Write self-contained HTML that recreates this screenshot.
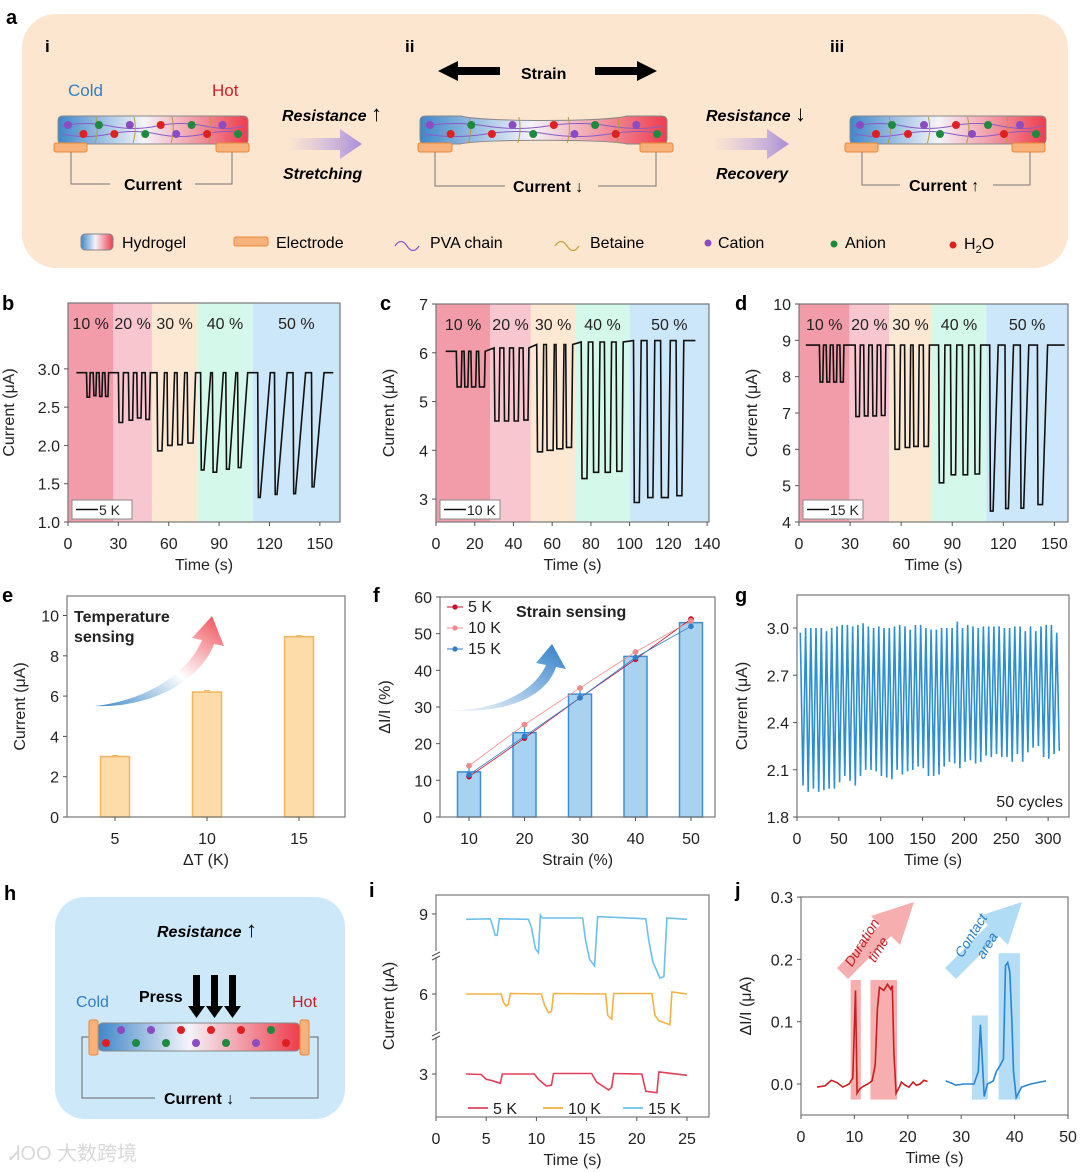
<!DOCTYPE html>
<html><head><meta charset="utf-8"><style>
html,body{margin:0;padding:0;background:#fff}
svg{display:block;font-family:"Liberation Sans","Noto Sans CJK SC",sans-serif}
</style></head><body>
<svg id="fig" width="1080" height="1172" viewBox="0 0 1080 1172" xmlns="http://www.w3.org/2000/svg">
<defs>
<linearGradient id="gel" x1="0" x2="1" y1="0" y2="0"><stop offset="0" stop-color="#3f87c8"/><stop offset="0.45" stop-color="#f4f4fa"/><stop offset="1" stop-color="#ee3d4d"/></linearGradient>
<linearGradient id="parr" x1="0" x2="1"><stop offset="0" stop-color="#c9b6e6" stop-opacity="0"/><stop offset="1" stop-color="#a88dd8"/></linearGradient>
<linearGradient id="earr" x1="0" y1="1" x2="1" y2="0"><stop offset="0" stop-color="#3f8ac8"/><stop offset="0.5" stop-color="#ffffff"/><stop offset="1" stop-color="#ef4b55"/></linearGradient>
<linearGradient id="farr" x1="0" y1="1" x2="1" y2="0"><stop offset="0" stop-color="#ffffff"/><stop offset="1" stop-color="#2f7fc8"/></linearGradient>
</defs>

<!-- Panel a -->
<g>
<text x="6" y="24" font-size="20" font-weight="bold">a</text>
<rect x="22" y="14" width="1046" height="254" rx="34" fill="#fde6d0"/>
<text x="45" y="52" font-size="17" font-weight="bold">i</text>
<text x="405" y="52" font-size="17" font-weight="bold">ii</text>
<text x="830" y="52" font-size="17" font-weight="bold">iii</text>
<text x="68" y="96" font-size="17" fill="#2f7fc8">Cold</text>
<text x="212" y="96" font-size="17" fill="#d0202a">Hot</text>
<g id="gels"></g>
<text x="282" y="121" font-size="16" font-weight="bold" font-style="italic">Resistance <tspan font-size="22" font-style="normal" font-weight="normal">↑</tspan></text>
<polygon points="285,138 340,138 340,129 362,144 340,159 340,150 285,150" fill="url(#parr)"/>
<text x="283" y="179" font-size="16" font-weight="bold" font-style="italic">Stretching</text>
<polygon points="438,71 458,61 458,67 500,67 500,75 458,75 458,81" fill="#000"/>
<text x="521" y="79" font-size="16" font-weight="bold">Strain</text>
<polygon points="595,67 637,67 637,61 657,71 637,81 637,75 595,75" fill="#000"/>
<text x="706" y="121" font-size="16" font-weight="bold" font-style="italic">Resistance <tspan font-size="22" font-style="normal" font-weight="normal">↓</tspan></text>
<polygon points="712,138 767,138 767,129 789,144 767,159 767,150 712,150" fill="url(#parr)"/>
<text x="716" y="179" font-size="16" font-weight="bold" font-style="italic">Recovery</text>
<!-- legend -->
<rect x="81" y="234" width="32" height="16" rx="4" fill="url(#gel)" stroke="#888"/>
<text x="122" y="248" font-size="16">Hydrogel</text>
<rect x="234" y="237" width="34" height="9" rx="2" fill="#f6b27a" stroke="#e8893a"/>
<text x="276" y="248" font-size="16">Electrode</text>
<path d="M395,246 q6,-9 12,0 t12,0" fill="none" stroke="#8a5cc8" stroke-width="1.3"/>
<text x="430" y="248" font-size="16">PVA chain</text>
<path d="M555,246 q6,-9 12,0 t12,0" fill="none" stroke="#c8a23a" stroke-width="1.3"/>
<text x="590" y="248" font-size="16">Betaine</text>
<circle cx="708" cy="243" r="3.5" fill="#8a4cc0"/>
<text x="718" y="248" font-size="16">Cation</text>
<circle cx="834" cy="244" r="3.5" fill="#1e8a3e"/>
<text x="845" y="248" font-size="16">Anion</text>
<circle cx="953" cy="245" r="3.5" fill="#e02020"/>
<text x="964" y="249" font-size="16">H<tspan font-size="11" dy="4">2</tspan><tspan dy="-4">O</tspan></text>
</g>

<!-- Panel h -->
<g>
<text x="4" y="900" font-size="20" font-weight="bold">h</text>
<rect x="55" y="897" width="290" height="222" rx="30" fill="#cde8f9"/>
<text x="157" y="937" font-size="16" font-weight="bold" font-style="italic">Resistance <tspan font-size="22" font-style="normal" font-weight="normal">↑</tspan></text>
<text x="139" y="1002" font-size="16" font-weight="bold">Press</text>
<g fill="#000">
<polygon points="193,975 200,975 200,1006 205,1006 196.5,1018 188,1006 193,1006"/>
<polygon points="211,975 218,975 218,1006 223,1006 214.5,1018 206,1006 211,1006"/>
<polygon points="229,975 236,975 236,1006 241,1006 232.5,1018 224,1006 229,1006"/>
</g>
<text x="76" y="1007" font-size="16" fill="#2f7fc8">Cold</text>
<text x="292" y="1007" font-size="16" fill="#c0202a">Hot</text>
<path d="M89,1037 H82 V1098 H155 M250,1098 H318 V1037 H310" fill="none" stroke="#666" stroke-width="1"/>
<rect x="98" y="1023" width="202" height="28" rx="5" fill="url(#gel)" stroke="#888"/>
<rect x="89" y="1020" width="9" height="35" rx="2" fill="#f6b27a" stroke="#e8893a"/>
<rect x="300" y="1020" width="9" height="35" rx="2" fill="#f6b27a" stroke="#e8893a"/>
<g id="hdots"></g>
<text x="164" y="1104" font-size="16" font-weight="bold">Current ↓</text>
<text x="10" y="1160" font-size="20" fill="#d8d8d8">ᏗOO 大数跨境</text>
</g>

<g id="charts"></g>
</svg>
<script>
// ===== Panel b data =====
const bBandEdges = [0, 27, 50, 77, 110, 162];
const bBandLabels = ["10 %", "20 %", "30 %", "40 %", "50 %"];
const bBaseline = [2.95, 2.95, 2.95, 2.95, 2.95];
const bDipStart = [11,15,18.5,22, 30,36,41,46, 53,59,65,71, 79,86,94,101, 113,123,134,145];
const bDipEnd   = [12.8,16.6,20.2,23.8, 32.5,38.5,43.5,48.5, 56,62,68,74.5, 81,88.5,96,103, 114.5,124.5,135.5,146.5];
const bDipLevel = [2.63,2.65,2.64,2.64, 2.3,2.33,2.36,2.34, 1.93,2.0,2.01,2.03, 1.68,1.65,1.69,1.71, 1.32,1.36,1.37,1.46];
const bDipRise  = [0.4,0.4,0.4,0.4, 0.5,0.5,0.5,0.5, 1.5,1.5,1.5,1.5, 4,4,4,4, 6,6,6,6];
const bYTicks = [1.0, 1.5, 2.0, 2.5, 3.0];
const bXTicks = [0, 30, 60, 90, 120, 150];
// ===== Panel c data =====
const cBandEdges = [0, 28, 49, 72, 100, 141];
const cBaseline = [6.03, 6.1, 6.17, 6.22, 6.25];
const cDipStart = [10.5,14.5,18,22, 30,35,40,45, 52,57,62,67, 75,81,87,93, 102,109,116,124];
const cDipEnd   = [13,16.5,20.5,25, 32.5,37.5,42.5,47.5, 55,60.5,65.5,70, 78,84,90,96, 105,112,120,127];
const cDipLevel = [5.3,5.3,5.3,5.3, 4.6,4.6,4.6,4.62, 3.97,4.0,4.03,4.06, 3.42,3.55,3.55,3.57, 2.93,3.03,3.03,3.07];
const cDipRise  = [0.4,0.4,0.4,0.4, 0.5,0.5,0.5,0.5, 0.6,0.6,0.6,0.6, 0.7,0.7,0.7,0.7, 1,1,1,1];
const cYTicks = [3, 4, 5, 6, 7];
const cXTicks = [0, 20, 40, 60, 80, 100, 120, 140];
// ===== Panel d data =====
const dBandEdges = [0, 29.6, 53, 78, 110, 158];
const dBaseline = [8.87, 8.87, 8.87, 8.87, 8.87];
const dDipStart = [12,16,20,24, 33,38,43,48, 56,62,67,73, 82,89,96,103, 112,121,130,140];
const dDipEnd   = [14,18,22,26, 35.5,40.5,45.5,50.5, 59,65,70,76, 85,92,99,106, 114,123,132,143];
const dDipLevel = [7.85,7.85,7.85,7.85, 6.9,6.92,6.92,6.93, 6.0,6.05,6.08,6.08, 5.08,5.3,5.3,5.32, 4.3,4.37,4.38,4.48];
const dDipRise  = [0.4,0.4,0.4,0.4, 0.5,0.5,0.5,0.5, 0.6,0.6,0.6,0.6, 0.7,0.7,0.7,0.7, 3,3,3,3];
const dYTicks = [4, 5, 6, 7, 8, 9, 10];
const dXTicks = [0, 30, 60, 90, 120, 150];
// ===== Panel e data =====
const eCategories = [5, 10, 15];
const eValues = [3.0, 6.2, 8.95];
const eErrors = [0.05, 0.08, 0.05];
const eYTicks = [0, 2, 4, 6, 8, 10];
// ===== Panel f data =====
const fCategories = [10, 20, 30, 40, 50];
const fBarValues = [12.3, 23.0, 33.5, 43.8, 53.0];
const fErrors = [1.6, 2.2, 1.6, 1.2, 1.0];
const f5K = [11.0, 21.5, 32.5, 43.0, 54.0];
const f10K = [14.0, 25.2, 35.2, 45.0, 53.5];
const f15K = [11.5, 22.0, 32.5, 43.5, 52.0];
const fYTicks = [0, 10, 20, 30, 40, 50, 60];
// ===== Panel g data =====
const gPeaks = [2.97,3.0,3.0,3.0,3.0,2.98,3.0,3.01,3.02,3.02,3.01,3.02,3.03,3.01,3.0,3.01,3.0,3.0,3.01,3.02,3.01,2.99,3.02,3.02,3.0,2.99,2.99,3.0,3.0,3.0,3.04,3.0,3.02,3.01,3.0,3.01,3.01,3.01,3.01,3.0,3.0,3.01,3.01,2.98,3.01,2.98,3.01,3.02,3.02,2.97];
const gTroughs = [2.0,1.96,1.98,1.96,1.97,1.98,1.98,2.02,2.06,2.03,2.0,2.06,2.1,2.1,2.09,2.06,2.05,2.04,2.1,2.07,2.09,2.1,2.12,2.11,2.06,2.06,2.07,2.12,2.15,2.14,2.11,2.15,2.16,2.14,2.15,2.19,2.18,2.2,2.18,2.18,2.15,2.2,2.15,2.21,2.24,2.25,2.18,2.17,2.2,2.22];
const gFirstPeakTime = 4;
const gPeriod = 6.25;
const gYTicks = [1.8, 2.1, 2.4, 2.7, 3.0];
const gXTicks = [0, 50, 100, 150, 200, 250, 300];
// ===== Panel i data =====
const i15Kt = [3,5.4,5.6,5.9,6.1,6.3,9.2,9.5,9.9,10.2,10.4,10.6,14.6,14.9,15.3,15.8,16.1,20.9,21.2,21.6,22.3,22.7,23.0,25];
const i15Kv = [8.8,8.82,8.6,8.2,8.2,8.82,8.8,8.5,7.7,7.55,8.95,8.85,8.85,8.0,7.3,7.05,8.9,8.82,8.0,7.2,6.6,6.65,8.85,8.8];
const i10Kt = [3,6.5,6.7,7.0,7.2,7.4,10.5,10.8,11.2,11.5,11.7,16.9,17.1,17.5,17.7,21.5,21.8,22.2,23.3,23.5,25];
const i10Kv = [6.0,6.0,5.7,5.55,5.6,6.02,6.0,5.6,5.3,5.35,6.02,6.0,5.2,5.05,6.02,6.02,5.2,5.0,4.85,6.08,6.0];
const i5Kt  = [3,4.5,5.0,5.6,6.4,6.6,9.8,10.2,11.0,11.5,11.7,15.5,16.0,17.2,17.5,17.7,20.5,20.9,22.0,22.2,25];
const i5Kv  = [3.0,2.98,2.8,2.75,2.65,3.0,3.0,2.8,2.55,2.58,3.02,3.02,2.7,2.4,2.5,3.02,3.0,2.35,2.3,3.08,2.95];
const iYTicks = [3, 6, 9];
const iXTicks = [0, 5, 10, 15, 20, 25];
// ===== Panel j data =====
const jRedT = [3,4.5,5.7,6.8,7.8,9.0,9.7,10.2,10.5,11.0,11.6,12.5,13.3,13.9,14.3,14.7,15.5,16.2,16.8,17.1,17.4,17.8,18.4,18.8,19.5,20.2,21.0,21.6,22.3,23.0,23.7];
const jRedV = [-0.005,-0.003,0.006,0.002,-0.005,0.0,0.01,0.15,-0.015,-0.008,-0.004,0.0,0.005,0.03,0.12,0.155,0.15,0.16,0.152,0.158,0.05,-0.015,-0.005,0.003,-0.002,-0.005,0.003,-0.002,0.0,0.006,0.004];
const jBlueT = [27.1,28.0,29.0,30.5,32.4,33.2,33.6,34.0,34.3,34.9,36.0,36.6,37.3,37.9,38.3,38.7,39.1,39.5,39.8,40.3,41.3,43.0,45.9];
const jBlueV = [0.005,0.002,-0.002,0.0,0.0,0.02,0.095,0.03,-0.02,0.0,0.005,0.02,0.03,0.04,0.19,0.195,0.18,0.1,0.02,-0.022,-0.005,0.0,0.005];
const jYTicks = [0.0, 0.1, 0.2, 0.3];
const jXTicks = [0, 10, 20, 30, 40, 50];

const NS = "http://www.w3.org/2000/svg";
const root = document.getElementById("charts");
function mk(tag, attrs, name, parent) {
  const el = document.createElementNS(NS, tag);
  for (const k in attrs) el.setAttribute(k, attrs[k]);
  
  
  (parent || root).appendChild(el);
  return el;
}
function txt(x, y, s, name, extra) {
  const el = mk("text", Object.assign({x: x, y: y, "font-size": 16, fill: "#222"}, extra || {}), name);
  el.textContent = s;
  return el;
}
function fmt(v, d) { return d ? v.toFixed(d) : String(v); }

function axes(o) {
  mk("rect", {x: o.x0, y: o.y0, width: o.x1 - o.x0, height: o.y1 - o.y0, fill: "none", stroke: "#777", "stroke-width": 1.2}, o.name + "-frame");
  o.yticks.forEach(v => {
    const y = o.sy(v);
    mk("line", {x1: o.x0 - 4, x2: o.x0, y1: y, y2: y, stroke: "#555"}, o.name + "-y-tick");
    txt(o.x0 - 8, y + 6, fmt(v, o.ydec), o.name + "-y-tick-label", {"text-anchor": "end"});
  });
  o.xticks.forEach(v => {
    const x = o.sx(v);
    mk("line", {x1: x, x2: x, y1: o.y1, y2: o.y1 + 4, stroke: "#555"}, o.name + "-x-tick");
    txt(x, o.y1 + 27, fmt(v), o.name + "-x-tick-label", {"text-anchor": "middle"});
  });
  txt((o.x0 + o.x1) / 2, o.y1 + 48, o.xtitle, o.name + "-x-axis-title", {"text-anchor": "middle"});
  const ty = (o.y0 + o.y1) / 2, tx = o.x0 - (o.ytoff || 50);
  txt(tx, ty, o.ytitle, o.name + "-y-axis-title", {"text-anchor": "middle", transform: "rotate(-90 " + tx + " " + ty + ")"});
}
function pathFrom(pts) { return pts.map((p, i) => (i ? "L" : "M") + p[0].toFixed(1) + "," + p[1].toFixed(1)).join(""); }

const bandColors = ["#f29ba9", "#f8c6cf", "#fde8d4", "#d4f8e9", "#cce6fa"];
function strainPanel(p) {
  const sx = t => p.x0 + (t - p.tmin) * (p.x1 - p.x0) / (p.tmax - p.tmin);
  const sy = v => p.y1 - (v - p.vmin) * (p.y1 - p.y0) / (p.vmax - p.vmin);
  for (let k = 0; k < 5; k++) {
    const xa = sx(p.edges[k]), xb = sx(p.edges[k + 1]);
    mk("rect", {x: xa, y: p.y0, width: xb - xa, height: p.y1 - p.y0, fill: bandColors[k]}, p.name + "-band-" + (k + 1) * 10);
    txt((xa + xb) / 2, p.y0 + 26, bBandLabels[k], p.name + "-band-label", {"text-anchor": "middle"});
  }
  const bandOf = t => { for (let k = 0; k < 5; k++) if (t < p.edges[k + 1]) return k; return 4; };
  const pts = [];
  pts.push([sx(p.tstart), sy(p.base[0])]);
  for (let i = 0; i < p.start.length; i++) {
    const b = p.base[bandOf(p.start[i])];
    pts.push([sx(p.start[i]), sy(b)]);
    pts.push([sx(p.start[i] + 0.4), sy(p.level[i])]);
    pts.push([sx(p.end[i]), sy(p.level[i])]);
    pts.push([sx(p.end[i] + p.rise[i]), sy(b)]);
  }
  pts.push([sx(p.tend), sy(p.base[4])]);
  mk("path", {d: pathFrom(pts), fill: "none", stroke: "#111", "stroke-width": 1.6}, p.name + "-current-trace");
  axes({name: p.name, x0: p.x0, x1: p.x1, y0: p.y0, y1: p.y1, sx: sx, sy: sy, xticks: p.xticks, yticks: p.yticks, ydec: p.ydec, xtitle: "Time (s)", ytitle: "Current (μA)", ytoff: p.ytoff});
  mk("rect", {x: p.x0 + 4, y: p.y1 - 22, width: 60, height: 19, fill: "#fff", stroke: "#888"}, p.name + "-legend-box");
  mk("line", {x1: p.x0 + 8, x2: p.x0 + 30, y1: p.y1 - 12.5, y2: p.y1 - 12.5, stroke: "#111", "stroke-width": 1.6}, p.name + "-legend-line");
  txt(p.x0 + 31, p.y1 - 7, p.legend, p.name + "-legend-label", {"font-size": 14});
}

[["b",0,310],["c",378,310],["d",733,310],["e",0,602],["f",371,602],["g",733,602],["i",367,897],["j",733,897]].forEach(l => {
  txt(l[1] + 2, l[2], l[0], "panel-label-" + l[0], {"font-size": 20, "font-weight": "bold", fill: "#000"});
});

strainPanel({name: "panel-b", x0: 68, x1: 340, y0: 303, y1: 522, tmin: 0, tmax: 162, vmin: 1.0, vmax: 3.86, edges: bBandEdges, base: bBaseline, start: bDipStart, end: bDipEnd, level: bDipLevel, rise: bDipRise, tstart: 5, tend: 158, xticks: bXTicks, yticks: bYTicks, ydec: 1, legend: "5 K", ytoff: 54});
strainPanel({name: "panel-c", x0: 436, x1: 709, y0: 304, y1: 522, tmin: 0, tmax: 141, vmin: 2.53, vmax: 7.0, edges: cBandEdges, base: cBaseline, start: cDipStart, end: cDipEnd, level: cDipLevel, rise: cDipRise, tstart: 5, tend: 134, xticks: cXTicks, yticks: cYTicks, ydec: 0, legend: "10 K", ytoff: 42});
strainPanel({name: "panel-d", x0: 799, x1: 1068, y0: 304, y1: 522, tmin: 0, tmax: 158, vmin: 4, vmax: 10, edges: dBandEdges, base: dBaseline, start: dDipStart, end: dDipEnd, level: dDipLevel, rise: dDipRise, tstart: 4, tend: 156, xticks: dXTicks, yticks: dYTicks, ydec: 0, legend: "15 K", ytoff: 42});

// ===== Panel e =====
(function () {
  const x0 = 67, x1 = 345, y0 = 596, y1 = 817;
  const sx = v => 115 + (v - 5) * 18.4;
  const sy = v => y1 - v * 20.15;
  mk("path", {d: "M95,706 C150,700 190,670 202,640 L192,638 L212,616 L224,646 L214,644 C200,682 150,708 95,706 Z", fill: "url(#earr)"}, "temperature-arrow");
  txt(74, 622, "Temperature", "temperature-sensing-label", {"font-weight": "bold"});
  txt(74, 642, "sensing", "temperature-sensing-label-2", {"font-weight": "bold"});
  eCategories.forEach((c, i) => {
    const x = sx(c), y = sy(eValues[i]);
    mk("rect", {x: x - 14.5, y: y, width: 29, height: y1 - y, fill: "#fddcaa", stroke: "#f3b55c", "stroke-width": 1.5}, "bar-" + c + "k");
    mk("line", {x1: x - 3, x2: x + 3, y1: sy(eValues[i] + eErrors[i]), y2: sy(eValues[i] + eErrors[i]), stroke: "#f3b55c"}, "error-bar-" + c + "k");
  });
  axes({name: "panel-e", x0: x0, x1: x1, y0: y0, y1: y1, sx: sx, sy: sy, xticks: eCategories, yticks: eYTicks, ydec: 0, xtitle: "ΔT (K)", ytitle: "Current (μA)", ytoff: 42});
})();

// ===== Panel f =====
(function () {
  const x0 = 440, x1 = 715, y0 = 597, y1 = 817;
  const sx = v => 469 + (v - 10) * 5.55;
  const sy = v => y1 - v * 3.667;
  mk("path", {d: "M442,710 C500,712 535,690 546,665 L536,663 L552,644 L566,669 L556,667 C545,700 500,715 442,710 Z", fill: "url(#farr)"}, "strain-sensing-arrow");
  fCategories.forEach((c, i) => {
    const x = sx(c), y = sy(fBarValues[i]);
    mk("rect", {x: x - 11.5, y: y, width: 23, height: y1 - y, fill: "#a9d2f0", stroke: "#3b8fd0", "stroke-width": 1.5}, "bar-strain-" + c);
    mk("line", {x1: x, x2: x, y1: sy(fBarValues[i] - fErrors[i]), y2: sy(fBarValues[i] + fErrors[i]), stroke: "#3b8fd0", "stroke-width": 1.2}, "error-bar-strain-" + c);
    mk("line", {x1: x - 3, x2: x + 3, y1: sy(fBarValues[i] + fErrors[i]), y2: sy(fBarValues[i] + fErrors[i]), stroke: "#3b8fd0", "stroke-width": 1.2}, "error-cap-strain-" + c);
  });
  const series = [[f5K, "#c8102e", "5K"], [f10K, "#f08a8a", "10K"], [f15K, "#2f7fc8", "15K"]];
  series.forEach(s => {
    mk("path", {d: pathFrom(fCategories.map((c, i) => [sx(c), sy(s[0][i])])), fill: "none", stroke: s[1], "stroke-width": 0.8}, "line-" + s[2]);
    fCategories.forEach((c, i) => mk("circle", {cx: sx(c), cy: sy(s[0][i]), r: 2.8, fill: s[1]}, "point-" + s[2] + "-" + c));
  });
  const leg = [["5 K", "#c8102e", 612], ["10 K", "#f08a8a", 633], ["15 K", "#2f7fc8", 654]];
  leg.forEach(l => {
    mk("line", {x1: 447, x2: 463, y1: l[2] - 5, y2: l[2] - 5, stroke: l[1]}, "legend-line-" + l[0]);
    mk("circle", {cx: 455, cy: l[2] - 5, r: 2.6, fill: l[1]}, "legend-marker-" + l[0]);
    txt(468, l[2], l[0], "legend-label-" + l[0]);
  });
  txt(516, 617, "Strain sensing", "strain-sensing-label", {"font-weight": "bold"});
  axes({name: "panel-f", x0: x0, x1: x1, y0: y0, y1: y1, sx: sx, sy: sy, xticks: fCategories, yticks: fYTicks, ydec: 0, xtitle: "Strain (%)", ytitle: "ΔI/I (%)", ytoff: 50});
})();

// ===== Panel g =====
(function () {
  const x0 = 797, x1 = 1069, y0 = 595, y1 = 817;
  const sx = t => x0 + t * 0.837;
  const sy = v => y1 - (v - 1.8) * 157.5;
  const pts = [];
  gPeaks.forEach((p, i) => {
    const t = gFirstPeakTime + i * gPeriod;
    pts.push([sx(t), sy(p)]);
    if (i < gTroughs.length) pts.push([sx(t + gPeriod * 0.5), sy(gTroughs[i])]);
  });
  mk("path", {d: pathFrom(pts), fill: "none", stroke: "#2b8fd2", "stroke-width": 1.6}, "cycle-current-trace");
  txt(1063, 807, "50 cycles", "cycles-annotation", {"text-anchor": "end"});
  axes({name: "panel-g", x0: x0, x1: x1, y0: y0, y1: y1, sx: sx, sy: sy, xticks: gXTicks, yticks: gYTicks, ydec: 1, xtitle: "Time (s)", ytitle: "Current (μA)", ytoff: 50});
})();

// ===== Panel i =====
(function () {
  const x0 = 436, x1 = 709, y0 = 895, y1 = 1117;
  const sx = t => x0 + t * 10.04;
  const sy = v => 1074 - (v - 3) * 26.67;
  const ss = [[i15Kt, i15Kv, "#6cc0ea", "15K"], [i10Kt, i10Kv, "#f4b143", "10K"], [i5Kt, i5Kv, "#e0405a", "5K"]];
  ss.forEach(s => mk("path", {d: pathFrom(s[0].map((t, k) => [sx(t), sy(s[1][k])])), fill: "none", stroke: s[2], "stroke-width": 1.6}, "trace-" + s[3]));
  [["5 K", "#e0405a", 468], ["10 K", "#f4b143", 543], ["15 K", "#6cc0ea", 623]].forEach(l => {
    mk("line", {x1: l[2], x2: l[2] + 20, y1: 1108, y2: 1108, stroke: l[1], "stroke-width": 1.8}, "i-legend-line-" + l[0]);
    txt(l[2] + 25, 1114, l[0], "i-legend-label-" + l[0]);
  });
  axes({name: "panel-i", x0: x0, x1: x1, y0: y0, y1: y1, sx: sx, sy: sy, xticks: iXTicks, yticks: iYTicks, ydec: 0, xtitle: "Time (s)", ytitle: "Current (μA)", ytoff: 42});
  [0, 1].forEach(k => {
    mk("rect", {x: x0 - 4, y: (k ? 951 : 1031), width: 8, height: 6, fill: "#fff"}, "axis-break-gap");
    mk("path", {d: "M" + (x0 - 4) + "," + ((k ? 956 : 1036)) + " l8,-4 M" + (x0 - 4) + "," + ((k ? 960 : 1040)) + " l8,-4", stroke: "#555", fill: "none"}, "axis-break-mark");
  });
})();

// ===== Panel j =====
(function () {
  const x0 = 801, x1 = 1068, y0 = 897, y1 = 1115;
  const sx = t => x0 + t * 5.34;
  const sy = v => 1084 - v * 623;
  const hl = [[9.3, 11.2, 0.167, "#f4a0a0", "red-highlight-1"], [13.0, 18.0, 0.167, "#f4a0a0", "red-highlight-2"], [32.0, 35.0, 0.11, "#a8d8f5", "blue-highlight-1"], [37.0, 41.0, 0.21, "#a8d8f5", "blue-highlight-2"]];
  hl.forEach(h => mk("rect", {x: sx(h[0]), y: sy(h[2]), width: sx(h[1]) - sx(h[0]), height: sy(-0.025) - sy(h[2]), fill: h[3], opacity: 0.85}, h[4]));
  mk("polygon", {points: "837,968 880,925 871,916 914,902 900,945 891,936 848,979", fill: "#f4a0a0", opacity: 0.85}, "duration-arrow");
  mk("polygon", {points: "945,968 988,925 979,916 1022,902 1008,945 999,936 956,979", fill: "#a8d8f5", opacity: 0.9}, "contact-arrow");
  txt(866, 945, "Duration", "duration-label", {"font-size": 14, "font-style": "italic", fill: "#c0202a", "text-anchor": "middle", transform: "rotate(-58 866 945)"});
  txt(882, 952, "time", "time-label", {"font-size": 14, "font-style": "italic", fill: "#c0202a", "text-anchor": "middle", transform: "rotate(-58 882 952)"});
  txt(975, 938, "Contact", "contact-label", {"font-size": 14, "font-style": "italic", fill: "#2a7fc6", "text-anchor": "middle", transform: "rotate(-58 975 938)"});
  txt(991, 948, "area", "area-label", {"font-size": 14, "font-style": "italic", fill: "#2a7fc6", "text-anchor": "middle", transform: "rotate(-58 991 948)"});
  mk("path", {d: pathFrom(jRedT.map((t, k) => [sx(t), sy(jRedV[k])])), fill: "none", stroke: "#c81e1e", "stroke-width": 1.6}, "duration-trace");
  mk("path", {d: pathFrom(jBlueT.map((t, k) => [sx(t), sy(jBlueV[k])])), fill: "none", stroke: "#2a85d0", "stroke-width": 1.6}, "contact-trace");
  axes({name: "panel-j", x0: x0, x1: x1, y0: y0, y1: y1, sx: sx, sy: sy, xticks: jXTicks, yticks: jYTicks, ydec: 1, xtitle: "Time (s)", ytitle: "ΔI/I (μA)", ytoff: 50});
})();

// ===== hydrogel drawings (panel a) =====
(function () {
  const g = document.getElementById("gels");
  function gel(x, w, name, stretched) {
    const grp = mk("g", {}, name, g);
    const d = stretched
      ? "M" + x + ",121 q0,-5 6,-5 h35 C" + (x + 60) + ",122 " + (x + w - 60) + ",122 " + (x + w - 40) + ",116 h34 q6,0 6,5 v18 q0,5 -6,5 h-34 C" + (x + w - 60) + ",139 " + (x + 60) + ",139 " + (x + 40) + ",144 h-34 q-6,0 -6,-5 Z"
      : "M" + (x + 5) + ",116 h" + (w - 10) + " q5,0 5,5 v18 q0,5 -5,5 h-" + (w - 10) + " q-5,0 -5,-5 v-18 q0,-5 5,-5 Z";
    mk("path", {d: d, fill: "url(#gel)", stroke: "#888"}, name + "-body", grp);
    mk("path", {d: "M" + (x + 4) + ",126 q" + w / 8 + ",-5 " + w / 4 + ",0 t" + w / 4 + ",0 t" + w / 4 + ",0 t" + (w / 4 - 8) + ",0", fill: "none", stroke: "#8a5cc8"}, name + "-pva-chain", grp);
    mk("path", {d: "M" + (x + 4) + ",134 q" + w / 8 + ",5 " + w / 4 + ",0 t" + w / 4 + ",0 t" + w / 4 + ",0 t" + (w / 4 - 8) + ",0", fill: "none", stroke: "#8a5cc8"}, name + "-pva-chain-2", grp);
    for (let k = 1; k < 5; k++) mk("path", {d: "M" + (x + k * w / 5) + ",117 q3,13 -1,26", fill: "none", stroke: "#b89a3a"}, name + "-betaine", grp);
    const cols = ["#8a4cc0", "#e02020", "#1e8a3e", "#e02020", "#8a4cc0", "#1e8a3e", "#e02020", "#8a4cc0", "#1e8a3e", "#e02020", "#8a4cc0", "#1e8a3e"];
    cols.forEach((c, k) => mk("circle", {cx: x + 10 + k * (w - 20) / 11, cy: k % 2 ? 134 : 125, r: 4, fill: c}, name + "-ion", grp));
  }
  gel(58, 190, "hydrogel-i", false);
  gel(420, 247, "hydrogel-ii", true);
  gel(850, 196, "hydrogel-iii", false);
  const el = [[54, 33, "i"], [216, 33, "i"], [418, 34, "ii"], [640, 33, "ii"], [845, 33, "iii"], [1012, 33, "iii"]];
  el.forEach(e => mk("rect", {x: e[0], y: 143, width: e[1], height: 9, rx: 2, fill: "#f6b27a", stroke: "#e8893a"}, "electrode-" + e[2], g));
  mk("path", {d: "M71,152 V184 H110 M195,184 H232 V152", fill: "none", stroke: "#777"}, "wire-i", g);
  mk("path", {d: "M435,152 V186 H505 M598,186 H656 V152", fill: "none", stroke: "#777"}, "wire-ii", g);
  mk("path", {d: "M862,152 V185 H900 M993,185 H1030 V152", fill: "none", stroke: "#777"}, "wire-iii", g);
  txt(124, 190, "Current", "current-label-i", {"font-weight": "bold", fill: "#000"});
  txt(513, 192, "Current ↓", "current-label-ii", {"font-weight": "bold", fill: "#000"});
  txt(909, 191, "Current ↑", "current-label-iii", {"font-weight": "bold", fill: "#000"});
  const hd = document.getElementById("hdots");
  const cols = ["#e02020", "#8a4cc0", "#1e8a3e", "#8a4cc0", "#1e8a3e", "#e02020", "#8a4cc0", "#e02020", "#1e8a3e", "#e02020", "#8a4cc0", "#1e8a3e", "#e02020"];
  cols.forEach((c, k) => mk("circle", {cx: 106 + k * 15, cy: k % 2 ? 1030 : 1043, r: 4, fill: c}, "h-ion", hd));
})();
</script>
</body></html>
